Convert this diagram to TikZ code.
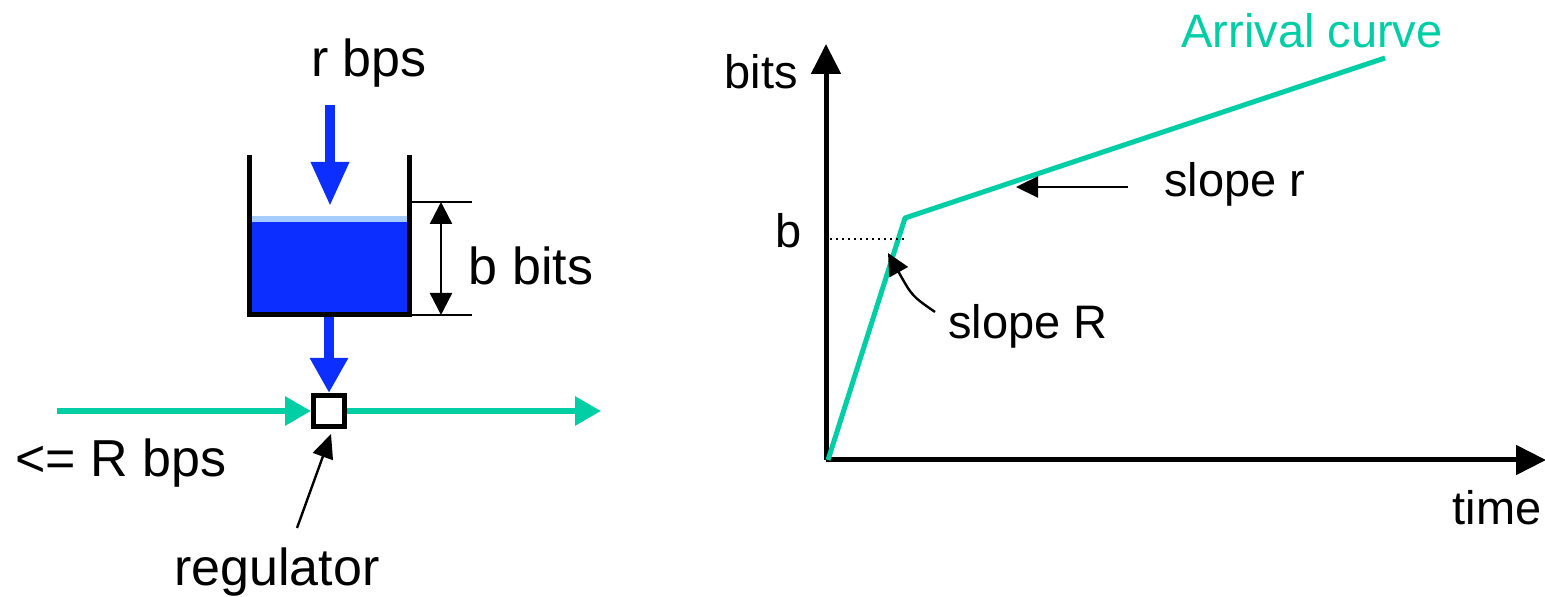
\documentclass[tikz,border=0pt]{standalone}
\usepackage{fontspec}
\setmainfont{Liberation Sans}
\usepackage{xcolor}
\usepackage{tikz}
\usetikzlibrary{arrows.meta,calc}
\definecolor{flowgreen}{RGB}{0,206,165}
\definecolor{waterblue}{RGB}{12,46,255}
\definecolor{foamblue}{RGB}{165,205,255}
\tikzset{
  bigtext/.style = {inner sep=0pt, anchor=base, font=\fontsize{26}{30}\selectfont},
  smalltext/.style = {inner sep=0pt, anchor=base, font=\fontsize{23.5}{28}\selectfont},
  bluearrow/.style = {waterblue, line width=4.8pt, -{Triangle[length=22pt,width=18pt]}},
  greenarrow/.style = {flowgreen, line width=3pt, -{Triangle[length=13pt,width=14pt]}},
  thinarrow/.style = {line width=1.2pt, -{Triangle[length=11pt,width=10.5pt]}},
  axisarrow/.style = {line width=2.5pt, -{Triangle[length=15pt,width=14.5pt]}}
}

\begin{document}
\begin{tikzpicture}[x=0.5pt,y=-0.5pt]
\useasboundingbox (0,0) rectangle (1545,597);

% bucket
  \fill[waterblue] (251,216) rectangle (407,313);
  \fill[foamblue] (251,216) rectangle (407,222);
  \draw[line width=2.5pt] (249,155) -- (249,315) -- (409,315) -- (409,155);

  \foreach \y in {202,315}{
     \draw[line width=0.9pt] (411,\y) -- (472,\y);
  }
  \coordinate (dtop) at (441,202);
  \coordinate (dbot) at (441,315);
  \draw[line width=1.2pt, {Triangle[length=11pt,width=11pt]}-{Triangle[length=11pt,width=11pt]}] (dtop) -- (dbot);

  \node[bigtext] (rate) at (369,77) {r bps};
  \node[bigtext] (depth) at (531,285) {b bits};
  \node[bigtext] (peak) at (121,477) {<= R bps};
  \node[bigtext] (reglabel) at (277,585) {regulator};

  \coordinate (inflow) at (330,105);
  \coordinate (inflowend) at (330,206);
  \coordinate (outflow) at (329,317);
  \draw[bluearrow] (inflow) -- (inflowend);

  \node[draw, line width=2.5pt, minimum size=15.5pt, inner sep=0pt] (reg) at (329,411) {};
  \draw[bluearrow, -{Triangle[length=17.5pt,width=18pt]}] (outflow) -- (reg.north);

  \coordinate (src) at (57,411);
  \coordinate (sink) at (601,411);
  \draw[greenarrow] (src) -- (reg.west);
  \draw[greenarrow] (reg.east) -- (sink);

  \coordinate (regtail) at (297,528);
  \draw[thinarrow, -{Triangle[length=12pt,width=10.5pt]}] (regtail) -- ($(reg.south)+(2,5)$);

% arrival curve
  \coordinate (origin) at (826,460);
  \coordinate (ytip) at (826,44);
  \coordinate (xtip) at (1546,460);
  \draw[axisarrow] (origin) -- (ytip);
  \draw[axisarrow] (origin) -- (xtip);

  \coordinate (start) at (828,460);
  \coordinate (knee) at (905,218);
  \coordinate (curveend) at (1385,58);
  \draw[flowgreen, line width=2.5pt, line join=round] (start) -- (knee) -- (curveend);
  \draw[dotted, line width=1pt] (830,239) -- (905,239);

  \node[smalltext] (ylabel) at (761,89) {bits};
  \node[smalltext] (xlabel) at (1497,524) {time};
  \node[smalltext] (blevel) at (789,248) {b};
  \node[smalltext, text=flowgreen] (curvelabel) at (1312,48) {Arrival curve};
  \node[smalltext] (sloper) at (1235,197) {slope r};
  \node[smalltext] (slopeR) at (1028,339) {slope R};

  \coordinate (rtail) at (1128,187);
  \coordinate (rhead) at (1016,187);
  \draw[thinarrow] (rtail) -- (rhead);

  \coordinate (Rtail) at (935,312);
  \coordinate (Rhead) at (888,253);
  \draw[thinarrow] (Rtail) .. controls (912,296) .. (Rhead);

\end{tikzpicture}
\end{document}
